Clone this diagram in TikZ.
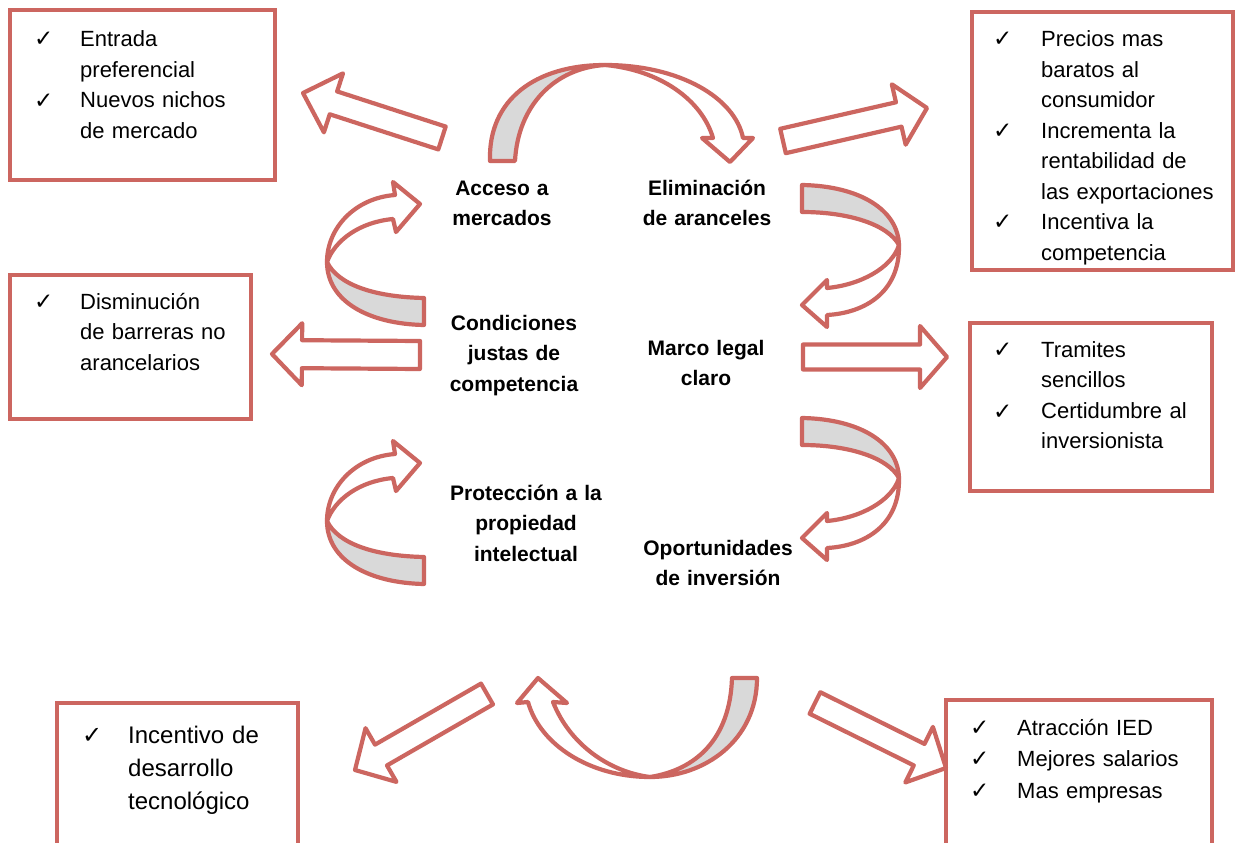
\documentclass[tikz,border=0pt]{standalone}
\usepackage{fontspec}
\setmainfont{Liberation Sans}
\newfontfamily\chkfont{DejaVu Sans}
\usetikzlibrary{calc}
\definecolor{rb}{RGB}{204,102,96}
\definecolor{gf}{RGB}{217,217,217}
\newcommand\blockarr[6]{%
  \coordinate (#1t) at (#2);
  \coordinate (#1p) at (#3);
  \coordinate (#1n) at ($(#1p)!#6!(#1t)$);
  \draw[arr] ($(#1t)!#4!90:(#1p)$) -- ($(#1n)!#4!90:(#1p)$) -- ($(#1n)!#5!90:(#1p)$) -- (#1p)
    -- ($(#1n)!#5!-90:(#1p)$) -- ($(#1n)!#4!-90:(#1p)$) -- ($(#1t)!#4!-90:(#1p)$) -- cycle;}
\newcommand\curvL{% left-side curved arrow (points right at top)
  \draw[cw] (395,195) -- (393,182) -- (420,204) -- (396,232) -- (393,219)
    .. controls (360,222) and (335,240) .. (327,262)
    .. controls (327,228) and (355,198) .. (395,195) -- cycle;
  \draw[cg] (327,262) .. controls (327,302) and (370,324) .. (424,325) -- (424,298)
    .. controls (375,297) and (338,285) .. (327,262) -- cycle;}
\newcommand\curvR{% right-side curved arrow (points left at bottom)
  \draw[cw] (899,245) .. controls (900,292) and (865,313) .. (827,315) -- (827,327) -- (802,305)
    -- (827,280) -- (827,288) .. controls (860,285) and (892,268) .. (899,245) -- cycle;
  \draw[cg] (802,185) .. controls (860,186) and (898,210) .. (899,245)
    .. controls (888,225) and (850,212) .. (802,212) -- cycle;}
\begin{document}
\begin{tikzpicture}[x=1pt,y=-1pt,
  boxs/.style={draw=rb, line width=4pt, fill=white, inner sep=0pt},
  arr/.style={draw=rb, line width=4.2pt, fill=white, line join=round},
  cw/.style={draw=rb, line width=4.2pt, fill=white, line join=round},
  cg/.style={draw=rb, line width=4.2pt, fill=gf, line join=round},
  txt/.style={anchor=base west, inner sep=0pt, text width=230pt, align=left,
    font=\fontsize{22}{30.5}\selectfont},
  chk/.style={anchor=base west, inner sep=0pt, font=\chkfont\fontsize{23}{24}\selectfont},
  lbl/.style={anchor=base, inner sep=0pt, text width=220pt, align=center,
    font=\bfseries\fontsize{21}{30.5}\selectfont}]
\useasboundingbox (0,0) rectangle (1235,843);
\fill[white] (0,0) rectangle (1235,843);
% boxes
\node[boxs, minimum width=265pt, minimum height=170pt] (box1) at (142.5,95) {};
\node[boxs, minimum width=261pt, minimum height=258pt] (box2) at (1102.5,141) {};
\node[boxs, minimum width=241pt, minimum height=144pt] (box3) at (130.5,347) {};
\node[boxs, minimum width=242pt, minimum height=168pt] (box4) at (1091,407) {};
\node[boxs, minimum width=241pt, minimum height=150pt] (box5) at (177.5,778) {};
\node[boxs, minimum width=266pt, minimum height=150pt] (box6) at (1079,775) {};
% box texts
\node[txt] (t1) at (80,47) {Entrada\\preferencial\\Nuevos nichos\\de mercado};
\node[chk] (c11) at (34,47) {✓};
\node[chk] (c12) at (34,108) {✓};
\node[txt] (t2) at (1041,47) {Precios mas\\baratos al\\consumidor\\Incrementa la\\rentabilidad de\\las exportaciones\\Incentiva la\\competencia};
\node[chk] (c21) at (993,47) {✓};
\node[chk] (c22) at (993,138) {✓};
\node[chk] (c23) at (993,229) {✓};
\node[txt] (t3) at (80,309) {Disminución\\de barreras no\\arancelarios};
\node[chk] (c31) at (34,309) {✓};
\node[txt] (t4) at (1041,357) {Tramites\\sencillos\\Certidumbre al\\inversionista};
\node[chk] (c41) at (993,357) {✓};
\node[chk] (c42) at (993,419) {✓};
\node[txt, font=\fontsize{24}{33}\selectfont] (t5) at (128,743) {Incentivo de\\desarrollo\\tecnológico};
\node[chk, font=\chkfont\fontsize{24}{24}\selectfont] (c51) at (82,743) {✓};
\node[txt, font=\fontsize{22}{31.5}\selectfont] (t6) at (1017,735) {Atracción IED\\Mejores salarios\\Mas empresas};
\node[chk] (c61) at (970,735) {✓};
\node[chk] (c62) at (970,766.5) {✓};
\node[chk] (c63) at (970,798) {✓};
% centre labels
\node[lbl] (l1) at (502,195) {Acceso a\\mercados};
\node[lbl] (l2) at (707,195) {Eliminación\\de aranceles};
\node[lbl] (l3) at (514,330) {Condiciones\\justas de\\competencia};
\node[lbl] (l4) at (706,355) {Marco legal\\claro};
\node[lbl] (l5) at (526,500) {Protección a la\\propiedad\\intelectual};
\node[lbl] (l6) at (718,555) {Oportunidades\\de inversión};
% straight block arrows
\blockarr{a1}{442,138}{303,93}{12pt}{31pt}{32pt}
\blockarr{a2}{783,141}{927,108}{12.5pt}{31pt}{29pt}
\blockarr{a3}{420,355}{272,354}{14pt}{31pt}{30pt}
\blockarr{a4}{803,357}{947,357}{12.5pt}{31pt}{27pt}
\blockarr{a5}{487,694}{355,770}{12pt}{31pt}{30pt}
\blockarr{a6}{815,703}{946,768}{12pt}{31pt}{30pt}
% top arch
\draw[cw] (605,65) .. controls (680,65) and (735,98) .. (743,138) -- (753,138) -- (730,162)
  -- (702,138) -- (713,138) .. controls (702,100) and (660,70) .. (605,65) -- cycle;
\draw[cg] (490,161) .. controls (488,100) and (535,65) .. (605,65)
  .. controls (555,68) and (518,105) .. (515,161) -- cycle;
% side curved arrows
\curvL
\begin{scope}[shift={(0,259)}]\curvL\end{scope}
\curvR
\begin{scope}[shift={(0,233)}]\curvR\end{scope}
% bottom arch
\draw[cw] (650,777) .. controls (590,777) and (540,745) .. (528,702) -- (517,703) -- (538,678)
  -- (567,703) -- (553,702) .. controls (570,745) and (610,772) .. (650,777) -- cycle;
\draw[cg] (757,678) .. controls (757,740) and (705,777) .. (650,777)
  .. controls (695,770) and (730,740) .. (732,678) -- cycle;
\end{tikzpicture}
\end{document}
